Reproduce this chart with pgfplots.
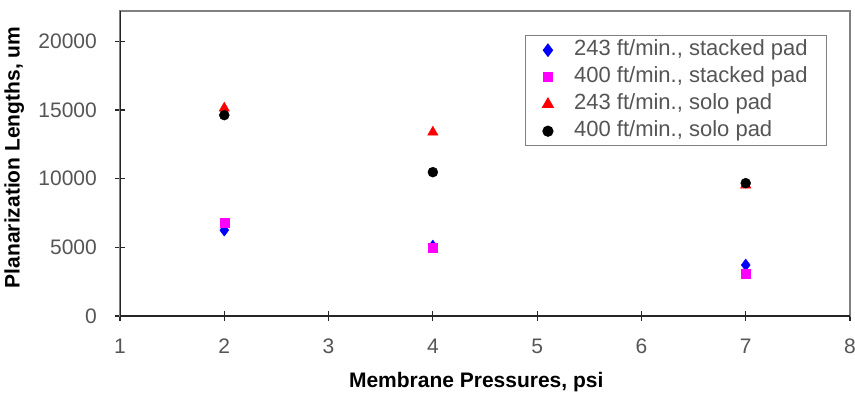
\documentclass[border=0pt]{standalone}
\usepackage{pgfplots}
\pgfplotsset{compat=1.18}
\usepackage{fontspec}
\setmainfont{Liberation Sans}
\definecolor{tickgray}{RGB}{85,85,85}
\definecolor{framegray}{RGB}{128,128,128}
\definecolor{mymag}{RGB}{255,0,255}
\definecolor{myblue}{RGB}{0,0,255}
\definecolor{myred}{RGB}{255,0,0}
\begin{document}
\begin{tikzpicture}
\begin{axis}[
  scale only axis,
  width=730pt, height=305pt,
  xmin=1, xmax=8, ymin=0, ymax=22200,
  xtick={1,2,3,4,5,6,7,8},
  ytick={0,5000,10000,15000,20000},
  xtick pos=bottom, ytick pos=left,
  tick align=center, major tick length=10pt,
  tick style={black!85, line width=1.2pt},
  axis line style={framegray, line width=1.6pt},
  scaled ticks=false,
  /pgf/number format/assume math mode=true,
  /pgf/number format/1000 sep={},
  ticklabel style={font=\fontsize{21}{24}\selectfont, text=tickgray},
  xticklabel style={anchor=center, yshift=-25pt},
  yticklabel style={anchor=east, inner sep=0pt, xshift=-18pt},
  xlabel={\bfseries Membrane Pressures, psi},
  ylabel={\bfseries Planarization Lengths, um},
  label style={font=\fontsize{21}{24}\selectfont},
  xlabel style={at={(axis description cs:0.488,-0.215)}, anchor=center},
  ylabel style={at={(axis description cs:-0.145,0.52)}, anchor=center},
  legend style={at={(axis description cs:0.555,0.921)}, anchor=north west,
    draw=framegray, line width=1.2pt, font=\fontsize{22}{24}\selectfont,
    text=tickgray, row sep=4pt, inner xsep=17pt, inner ysep=3pt,
    nodes={text height=15pt, text depth=4pt, inner sep=2pt},
    /tikz/every odd column/.append style={column sep=19pt}},
  legend cell align=left,
]
\addplot[only marks, mark=diamond*, mark size=6pt, color=myblue, fill=myblue] coordinates {(2,6250) (4,5090) (7,3710)};
\addlegendentry{243 ft/min., stacked pad}
\addplot[only marks, mark=square*, mark size=4.5pt, color=mymag, fill=mymag] coordinates {(2,6760) (4,4940) (7,3060)};
\addlegendentry{400 ft/min., stacked pad}
\addplot[only marks, mark=triangle*, mark size=6pt, color=myred, fill=myred] coordinates {(2,15130) (4,13380) (7,9530)};
\addlegendentry{243 ft/min., solo pad}
\addplot[only marks, mark=*, mark size=5pt, color=black, fill=black] coordinates {(2,14620) (4,10470) (7,9670)};
\addlegendentry{400 ft/min., solo pad}
\draw[black!85, line width=2pt] (axis description cs:0,1) |- (axis description cs:1,0);
\end{axis}
\pgfresetboundingbox
\useasboundingbox ([xshift=-120pt,yshift=-81pt]current axis.south west) rectangle ([xshift=5pt,yshift=11pt]current axis.north east);
\end{tikzpicture}
\end{document}
